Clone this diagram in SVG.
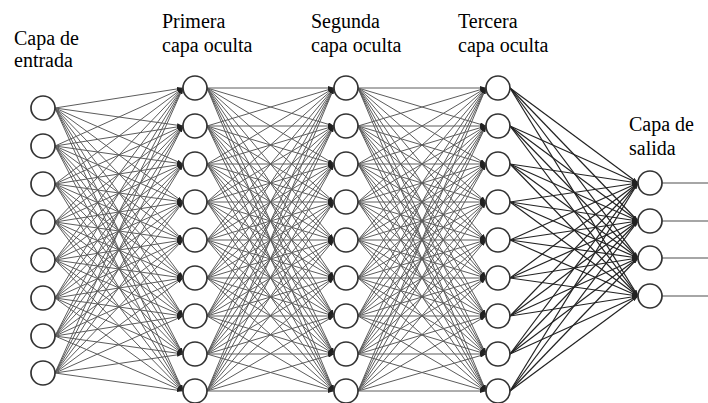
<svg xmlns="http://www.w3.org/2000/svg" width="708" height="403" viewBox="0 0 708 403">
<style>
.lbl{font-family:"Liberation Serif","Times New Roman",serif;font-size:20px;fill:#000}
.n{fill:#fff;stroke:#333;stroke-width:1.7}
.e path{fill:none}
</style>
<defs>
<marker id="a" viewBox="0 0 6 4" refX="6" refY="2" markerWidth="6" markerHeight="4" markerUnits="userSpaceOnUse" orient="auto"><path d="M0 0L6 2L0 4z" fill="#222"/></marker>
</defs>
<rect width="708" height="403" fill="#fff"/>
<g id="connectors">
<g class="e" stroke="#5c5c5c" stroke-width="1" marker-end="url(#a)">
<path d="M55 108L183 88"/><path d="M55 108L183 126"/><path d="M55 108L183 164"/><path d="M55 108L183 202"/><path d="M55 108L183 240"/><path d="M55 108L183 278"/><path d="M55 108L183 316"/><path d="M55 108L183 354"/><path d="M55 108L183 391"/>
<path d="M55 146L183 88"/><path d="M55 146L183 126"/><path d="M55 146L183 164"/><path d="M55 146L183 202"/><path d="M55 146L183 240"/><path d="M55 146L183 278"/><path d="M55 146L183 316"/><path d="M55 146L183 354"/><path d="M55 146L183 391"/>
<path d="M55 184L183 88"/><path d="M55 184L183 126"/><path d="M55 184L183 164"/><path d="M55 184L183 202"/><path d="M55 184L183 240"/><path d="M55 184L183 278"/><path d="M55 184L183 316"/><path d="M55 184L183 354"/><path d="M55 184L183 391"/>
<path d="M55 222L183 88"/><path d="M55 222L183 126"/><path d="M55 222L183 164"/><path d="M55 222L183 202"/><path d="M55 222L183 240"/><path d="M55 222L183 278"/><path d="M55 222L183 316"/><path d="M55 222L183 354"/><path d="M55 222L183 391"/>
<path d="M55 260L183 88"/><path d="M55 260L183 126"/><path d="M55 260L183 164"/><path d="M55 260L183 202"/><path d="M55 260L183 240"/><path d="M55 260L183 278"/><path d="M55 260L183 316"/><path d="M55 260L183 354"/><path d="M55 260L183 391"/>
<path d="M55 298L183 88"/><path d="M55 298L183 126"/><path d="M55 298L183 164"/><path d="M55 298L183 202"/><path d="M55 298L183 240"/><path d="M55 298L183 278"/><path d="M55 298L183 316"/><path d="M55 298L183 354"/><path d="M55 298L183 391"/>
<path d="M55 336L183 88"/><path d="M55 336L183 126"/><path d="M55 336L183 164"/><path d="M55 336L183 202"/><path d="M55 336L183 240"/><path d="M55 336L183 278"/><path d="M55 336L183 316"/><path d="M55 336L183 354"/><path d="M55 336L183 391"/>
<path d="M55 373L183 88"/><path d="M55 373L183 126"/><path d="M55 373L183 164"/><path d="M55 373L183 202"/><path d="M55 373L183 240"/><path d="M55 373L183 278"/><path d="M55 373L183 316"/><path d="M55 373L183 354"/><path d="M55 373L183 391"/>

<path d="M207 88L334 88"/><path d="M207 88L334 126"/><path d="M207 88L334 164"/><path d="M207 88L334 202"/><path d="M207 88L334 240"/><path d="M207 88L334 278"/><path d="M207 88L334 316"/><path d="M207 88L334 354"/><path d="M207 88L334 391"/>
<path d="M207 126L334 88"/><path d="M207 126L334 126"/><path d="M207 126L334 164"/><path d="M207 126L334 202"/><path d="M207 126L334 240"/><path d="M207 126L334 278"/><path d="M207 126L334 316"/><path d="M207 126L334 354"/><path d="M207 126L334 391"/>
<path d="M207 164L334 88"/><path d="M207 164L334 126"/><path d="M207 164L334 164"/><path d="M207 164L334 202"/><path d="M207 164L334 240"/><path d="M207 164L334 278"/><path d="M207 164L334 316"/><path d="M207 164L334 354"/><path d="M207 164L334 391"/>
<path d="M207 202L334 88"/><path d="M207 202L334 126"/><path d="M207 202L334 164"/><path d="M207 202L334 202"/><path d="M207 202L334 240"/><path d="M207 202L334 278"/><path d="M207 202L334 316"/><path d="M207 202L334 354"/><path d="M207 202L334 391"/>
<path d="M207 240L334 88"/><path d="M207 240L334 126"/><path d="M207 240L334 164"/><path d="M207 240L334 202"/><path d="M207 240L334 240"/><path d="M207 240L334 278"/><path d="M207 240L334 316"/><path d="M207 240L334 354"/><path d="M207 240L334 391"/>
<path d="M207 278L334 88"/><path d="M207 278L334 126"/><path d="M207 278L334 164"/><path d="M207 278L334 202"/><path d="M207 278L334 240"/><path d="M207 278L334 278"/><path d="M207 278L334 316"/><path d="M207 278L334 354"/><path d="M207 278L334 391"/>
<path d="M207 316L334 88"/><path d="M207 316L334 126"/><path d="M207 316L334 164"/><path d="M207 316L334 202"/><path d="M207 316L334 240"/><path d="M207 316L334 278"/><path d="M207 316L334 316"/><path d="M207 316L334 354"/><path d="M207 316L334 391"/>
<path d="M207 354L334 88"/><path d="M207 354L334 126"/><path d="M207 354L334 164"/><path d="M207 354L334 202"/><path d="M207 354L334 240"/><path d="M207 354L334 278"/><path d="M207 354L334 316"/><path d="M207 354L334 354"/><path d="M207 354L334 391"/>
<path d="M207 391L334 88"/><path d="M207 391L334 126"/><path d="M207 391L334 164"/><path d="M207 391L334 202"/><path d="M207 391L334 240"/><path d="M207 391L334 278"/><path d="M207 391L334 316"/><path d="M207 391L334 354"/><path d="M207 391L334 391"/>

<path d="M358 88L486 88"/><path d="M358 88L486 126"/><path d="M358 88L486 164"/><path d="M358 88L486 202"/><path d="M358 88L486 240"/><path d="M358 88L486 278"/><path d="M358 88L486 316"/><path d="M358 88L486 354"/><path d="M358 88L486 391"/>
<path d="M358 126L486 88"/><path d="M358 126L486 126"/><path d="M358 126L486 164"/><path d="M358 126L486 202"/><path d="M358 126L486 240"/><path d="M358 126L486 278"/><path d="M358 126L486 316"/><path d="M358 126L486 354"/><path d="M358 126L486 391"/>
<path d="M358 164L486 88"/><path d="M358 164L486 126"/><path d="M358 164L486 164"/><path d="M358 164L486 202"/><path d="M358 164L486 240"/><path d="M358 164L486 278"/><path d="M358 164L486 316"/><path d="M358 164L486 354"/><path d="M358 164L486 391"/>
<path d="M358 202L486 88"/><path d="M358 202L486 126"/><path d="M358 202L486 164"/><path d="M358 202L486 202"/><path d="M358 202L486 240"/><path d="M358 202L486 278"/><path d="M358 202L486 316"/><path d="M358 202L486 354"/><path d="M358 202L486 391"/>
<path d="M358 240L486 88"/><path d="M358 240L486 126"/><path d="M358 240L486 164"/><path d="M358 240L486 202"/><path d="M358 240L486 240"/><path d="M358 240L486 278"/><path d="M358 240L486 316"/><path d="M358 240L486 354"/><path d="M358 240L486 391"/>
<path d="M358 278L486 88"/><path d="M358 278L486 126"/><path d="M358 278L486 164"/><path d="M358 278L486 202"/><path d="M358 278L486 240"/><path d="M358 278L486 278"/><path d="M358 278L486 316"/><path d="M358 278L486 354"/><path d="M358 278L486 391"/>
<path d="M358 316L486 88"/><path d="M358 316L486 126"/><path d="M358 316L486 164"/><path d="M358 316L486 202"/><path d="M358 316L486 240"/><path d="M358 316L486 278"/><path d="M358 316L486 316"/><path d="M358 316L486 354"/><path d="M358 316L486 391"/>
<path d="M358 354L486 88"/><path d="M358 354L486 126"/><path d="M358 354L486 164"/><path d="M358 354L486 202"/><path d="M358 354L486 240"/><path d="M358 354L486 278"/><path d="M358 354L486 316"/><path d="M358 354L486 354"/><path d="M358 354L486 391"/>
<path d="M358 391L486 88"/><path d="M358 391L486 126"/><path d="M358 391L486 164"/><path d="M358 391L486 202"/><path d="M358 391L486 240"/><path d="M358 391L486 278"/><path d="M358 391L486 316"/><path d="M358 391L486 354"/><path d="M358 391L486 391"/>
</g>
<g class="e" stroke="#222" stroke-width="1.2" marker-end="url(#a)">
<path d="M510 88L638 183"/><path d="M510 88L638 221"/><path d="M510 88L638 258"/><path d="M510 88L638 296"/>
<path d="M510 126L638 183"/><path d="M510 126L638 221"/><path d="M510 126L638 258"/><path d="M510 126L638 296"/>
<path d="M510 164L638 183"/><path d="M510 164L638 221"/><path d="M510 164L638 258"/><path d="M510 164L638 296"/>
<path d="M510 202L638 183"/><path d="M510 202L638 221"/><path d="M510 202L638 258"/><path d="M510 202L638 296"/>
<path d="M510 240L638 183"/><path d="M510 240L638 221"/><path d="M510 240L638 258"/><path d="M510 240L638 296"/>
<path d="M510 278L638 183"/><path d="M510 278L638 221"/><path d="M510 278L638 258"/><path d="M510 278L638 296"/>
<path d="M510 316L638 183"/><path d="M510 316L638 221"/><path d="M510 316L638 258"/><path d="M510 316L638 296"/>
<path d="M510 354L638 183"/><path d="M510 354L638 221"/><path d="M510 354L638 258"/><path d="M510 354L638 296"/>
<path d="M510 391L638 183"/><path d="M510 391L638 221"/><path d="M510 391L638 258"/><path d="M510 391L638 296"/>
</g>
<g class="e" stroke="#888" stroke-width="1.6">
<path d="M662 183H708"/><path d="M662 221H708"/><path d="M662 258H708"/><path d="M662 296H708"/>
</g>
</g>
<g id="labels">
<text class="lbl" x="14" y="45">Capa de</text>
<text class="lbl" x="14" y="67">entrada</text>
<text class="lbl" x="162" y="28">Primera</text>
<text class="lbl" x="162" y="52">capa oculta</text>
<text class="lbl" x="311" y="28">Segunda</text>
<text class="lbl" x="311" y="52">capa oculta</text>
<text class="lbl" x="458" y="28">Tercera</text>
<text class="lbl" x="458" y="52">capa oculta</text>
<text class="lbl" x="629" y="131">Capa de</text>
<text class="lbl" x="629" y="155">salida</text>
</g>
<g id="input">
<g id="in1"><circle class="n" cx="43" cy="108" r="12"/></g>
<g id="in2"><circle class="n" cx="43" cy="146" r="12"/></g>
<g id="in3"><circle class="n" cx="43" cy="184" r="12"/></g>
<g id="in4"><circle class="n" cx="43" cy="222" r="12"/></g>
<g id="in5"><circle class="n" cx="43" cy="260" r="12"/></g>
<g id="in6"><circle class="n" cx="43" cy="298" r="12"/></g>
<g id="in7"><circle class="n" cx="43" cy="336" r="12"/></g>
<g id="in8"><circle class="n" cx="43" cy="373" r="12"/></g>
</g>
<g id="hidden1">
<g id="h1_1"><circle class="n" cx="195" cy="88" r="12"/></g>
<g id="h1_2"><circle class="n" cx="195" cy="126" r="12"/></g>
<g id="h1_3"><circle class="n" cx="195" cy="164" r="12"/></g>
<g id="h1_4"><circle class="n" cx="195" cy="202" r="12"/></g>
<g id="h1_5"><circle class="n" cx="195" cy="240" r="12"/></g>
<g id="h1_6"><circle class="n" cx="195" cy="278" r="12"/></g>
<g id="h1_7"><circle class="n" cx="195" cy="316" r="12"/></g>
<g id="h1_8"><circle class="n" cx="195" cy="354" r="12"/></g>
<g id="h1_9"><circle class="n" cx="195" cy="391" r="12"/></g>
</g>
<g id="hidden2">
<g id="h2_1"><circle class="n" cx="346" cy="88" r="12"/></g>
<g id="h2_2"><circle class="n" cx="346" cy="126" r="12"/></g>
<g id="h2_3"><circle class="n" cx="346" cy="164" r="12"/></g>
<g id="h2_4"><circle class="n" cx="346" cy="202" r="12"/></g>
<g id="h2_5"><circle class="n" cx="346" cy="240" r="12"/></g>
<g id="h2_6"><circle class="n" cx="346" cy="278" r="12"/></g>
<g id="h2_7"><circle class="n" cx="346" cy="316" r="12"/></g>
<g id="h2_8"><circle class="n" cx="346" cy="354" r="12"/></g>
<g id="h2_9"><circle class="n" cx="346" cy="391" r="12"/></g>
</g>
<g id="hidden3">
<g id="h3_1"><circle class="n" cx="498" cy="88" r="12"/></g>
<g id="h3_2"><circle class="n" cx="498" cy="126" r="12"/></g>
<g id="h3_3"><circle class="n" cx="498" cy="164" r="12"/></g>
<g id="h3_4"><circle class="n" cx="498" cy="202" r="12"/></g>
<g id="h3_5"><circle class="n" cx="498" cy="240" r="12"/></g>
<g id="h3_6"><circle class="n" cx="498" cy="278" r="12"/></g>
<g id="h3_7"><circle class="n" cx="498" cy="316" r="12"/></g>
<g id="h3_8"><circle class="n" cx="498" cy="354" r="12"/></g>
<g id="h3_9"><circle class="n" cx="498" cy="391" r="12"/></g>
</g>
<g id="output">
<g id="out1"><circle class="n" cx="650" cy="183" r="12"/></g>
<g id="out2"><circle class="n" cx="650" cy="221" r="12"/></g>
<g id="out3"><circle class="n" cx="650" cy="258" r="12"/></g>
<g id="out4"><circle class="n" cx="650" cy="296" r="12"/></g>
</g>
</svg>
